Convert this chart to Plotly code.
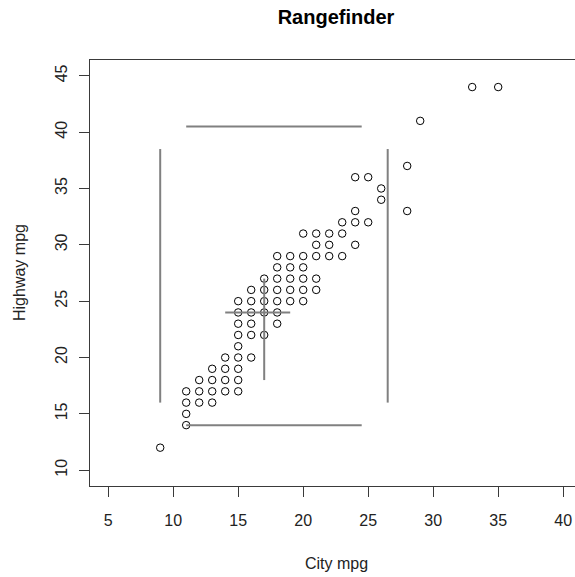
import plotly.graph_objects as go

# Distinct (city, highway) mpg pairs shown in the scatter
cty = [9,
       11, 11, 11, 11,
       12, 12, 12,
       13, 13, 13, 13,
       14, 14, 14, 14,
       15, 15, 15, 15, 15, 15, 15, 15, 15,
       16, 16, 16, 16, 16, 16,
       17, 17, 17, 17, 17,
       18, 18, 18, 18, 18, 18, 18,
       19, 19, 19, 19, 19,
       20, 20, 20, 20, 20, 20,
       21, 21, 21, 21, 21,
       22, 22, 22,
       23, 23, 23,
       24, 24, 24, 24,
       25, 25,
       26, 26,
       28, 28,
       29,
       33, 35]
hwy = [12,
       14, 15, 16, 17,
       16, 17, 18,
       16, 17, 18, 19,
       17, 18, 19, 20,
       17, 18, 19, 20, 21, 22, 23, 24, 25,
       20, 22, 23, 24, 25, 26,
       22, 24, 25, 26, 27,
       23, 24, 25, 26, 27, 28, 29,
       25, 26, 27, 28, 29,
       25, 26, 27, 28, 29, 31,
       26, 27, 29, 30, 31,
       29, 30, 31,
       29, 31, 32,
       30, 32, 33, 36,
       32, 36,
       34, 35,
       33, 37,
       41,
       44, 44]

# Rangefinder summary: medians and quartiles (centre cross)
cty_quart = [14, 17, 19]          # Q1, median, Q3
hwy_quart = [18, 24, 27]
# Outer lines: vertical at city extremes, horizontal at highway extremes
cty_ends = [9, 26.5]
hwy_ends = [14, 40.5]
cty_span = [11, 24.5]              # x extent of the horizontal outer lines
hwy_span = [16, 38.5]              # y extent of the vertical outer lines

x_ticks = [5, 10, 15, 20, 25, 30, 35, 40]
y_ticks = [10, 15, 20, 25, 30, 35, 40, 45]

FONT = "Liberation Sans, Arial, sans-serif"
INK = "#222222"
AXIS = "#3a3a3a"
RF = "#808080"

fig = go.Figure()

fig.add_trace(go.Scatter(
    x=cty, y=hwy, mode="markers",
    marker=dict(symbol="circle-open", size=7.5, color="black",
                line=dict(width=1)),
    hoverinfo="skip", showlegend=False))

line_style = dict(color=RF, width=2)

# centre cross
fig.add_trace(go.Scatter(x=[cty_quart[0], cty_quart[2]],
                         y=[hwy_quart[1], hwy_quart[1]],
                         mode="lines", line=line_style, hoverinfo="skip",
                         showlegend=False))
fig.add_trace(go.Scatter(x=[cty_quart[1], cty_quart[1]],
                         y=[hwy_quart[0], hwy_quart[2]],
                         mode="lines", line=line_style, hoverinfo="skip",
                         showlegend=False))
# outer vertical lines
for xv in cty_ends:
    fig.add_trace(go.Scatter(x=[xv, xv], y=hwy_span, mode="lines",
                             line=line_style, hoverinfo="skip",
                             showlegend=False))
# outer horizontal lines
for yv in hwy_ends:
    fig.add_trace(go.Scatter(x=cty_span, y=[yv, yv], mode="lines",
                             line=line_style, hoverinfo="skip",
                             showlegend=False))

W, H = 575, 577
ML, MR, MT, MB = 90, 0, 60, 91
plot_w = W - ML - MR
px_per_x = 13.0
x0 = 3.6

fig.update_layout(
    width=W, height=H,
    margin=dict(l=ML, r=MR, t=MT, b=MB, pad=0),
    paper_bgcolor="white", plot_bgcolor="white",
    font=dict(family=FONT, size=16, color=INK),
    title=dict(text="Rangefinder", x=(336 - ML) / plot_w, xref="paper",
               xanchor="center", y=1 - 17 / H, yanchor="middle",
               font=dict(family=FONT, size=20, color="black", weight="bold")),
    xaxis=dict(range=[x0, x0 + plot_w / px_per_x], tickvals=x_ticks,
               ticktext=[str(v) for v in x_ticks],
               showgrid=False, zeroline=False,
               showline=True, mirror=True, linecolor=AXIS, linewidth=1.3,
               ticks="outside", ticklen=10, tickwidth=1.2, tickcolor=AXIS,
               ticklabelstandoff=10,
               tickfont=dict(family=FONT, size=16, color=INK)),
    yaxis=dict(range=[8.6, 46.4], tickvals=y_ticks,
               ticktext=[str(v) for v in y_ticks],
               showgrid=False, zeroline=False,
               showline=True, mirror=False, linecolor=AXIS, linewidth=1.3,
               ticks="outside", ticklen=10, tickwidth=1.2, tickcolor=AXIS,
               tickangle=-90, ticklabelstandoff=5,
               tickfont=dict(family=FONT, size=16, color=INK)),
    annotations=[
        dict(text="City mpg", xref="paper", yref="paper",
             x=(336 - ML) / plot_w, y=(H - MB - 563) / (H - MT - MB),
             xanchor="center", yanchor="middle", showarrow=False,
             font=dict(family=FONT, size=16, color=INK)),
        dict(text="Highway mpg", xref="paper", yref="paper",
             x=(19 - ML) / plot_w, y=0.5, textangle=-90,
             xanchor="center", yanchor="middle", showarrow=False,
             font=dict(family=FONT, size=16, color=INK)),
    ],
)

fig.write_html("out.html", config={"displayModeBar": False})
